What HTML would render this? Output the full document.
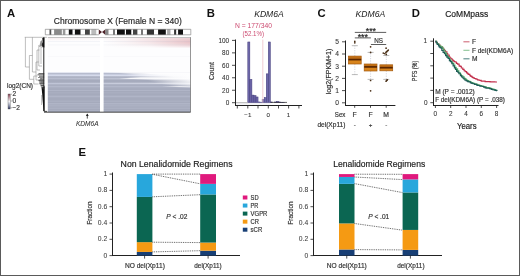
<!DOCTYPE html>
<html><head><meta charset="utf-8"><style>
html,body{margin:0;padding:0;background:#fff;}
body{width:520px;height:276px;overflow:hidden;font-family:"Liberation Sans", sans-serif;}
svg{display:block;will-change:transform;}
</style></head><body>
<svg width="520" height="276" viewBox="0 0 520 276" font-family='"Liberation Sans", sans-serif'><defs><linearGradient id="pk0" x1="0" y1="0" x2="1" y2="0"><stop offset="0" stop-color="#e0aab0" stop-opacity="0.15"/><stop offset="0.4" stop-color="#e0aab0" stop-opacity="0.075"/><stop offset="0.55" stop-color="#e0aab0" stop-opacity="0.12"/><stop offset="0.72" stop-color="#e0aab0" stop-opacity="0.3"/><stop offset="1" stop-color="#e0aab0" stop-opacity="0.55"/></linearGradient><linearGradient id="pk1" x1="0" y1="0" x2="1" y2="0"><stop offset="0" stop-color="#e0aab0" stop-opacity="0.08"/><stop offset="0.4" stop-color="#e0aab0" stop-opacity="0.04"/><stop offset="0.55" stop-color="#e0aab0" stop-opacity="0.12"/><stop offset="0.72" stop-color="#e0aab0" stop-opacity="0.3"/><stop offset="1" stop-color="#e0aab0" stop-opacity="0.6"/></linearGradient><linearGradient id="pk2" x1="0" y1="0" x2="1" y2="0"><stop offset="0" stop-color="#e0aab0" stop-opacity="0.03"/><stop offset="0.4" stop-color="#e0aab0" stop-opacity="0.015"/><stop offset="0.55" stop-color="#e0aab0" stop-opacity="0.12"/><stop offset="0.72" stop-color="#e0aab0" stop-opacity="0.3"/><stop offset="1" stop-color="#e0aab0" stop-opacity="0.65"/></linearGradient><linearGradient id="pk3" x1="0" y1="0" x2="1" y2="0"><stop offset="0" stop-color="#e0aab0" stop-opacity="0.0"/><stop offset="0.4" stop-color="#e0aab0" stop-opacity="0.0"/><stop offset="0.55" stop-color="#e0aab0" stop-opacity="0.12"/><stop offset="0.72" stop-color="#e0aab0" stop-opacity="0.3"/><stop offset="1" stop-color="#e0aab0" stop-opacity="0.7"/></linearGradient><linearGradient id="pk4" x1="0" y1="0" x2="1" y2="0"><stop offset="0" stop-color="#e0aab0" stop-opacity="0.0"/><stop offset="0.4" stop-color="#e0aab0" stop-opacity="0.0"/><stop offset="0.55" stop-color="#e0aab0" stop-opacity="0.11200000000000002"/><stop offset="0.72" stop-color="#e0aab0" stop-opacity="0.28"/><stop offset="1" stop-color="#e0aab0" stop-opacity="0.68"/></linearGradient><linearGradient id="pk5" x1="0" y1="0" x2="1" y2="0"><stop offset="0" stop-color="#e0aab0" stop-opacity="0.0"/><stop offset="0.4" stop-color="#e0aab0" stop-opacity="0.0"/><stop offset="0.55" stop-color="#e0aab0" stop-opacity="0.1"/><stop offset="0.72" stop-color="#e0aab0" stop-opacity="0.25"/><stop offset="1" stop-color="#e0aab0" stop-opacity="0.62"/></linearGradient><linearGradient id="pk6" x1="0" y1="0" x2="1" y2="0"><stop offset="0" stop-color="#e0aab0" stop-opacity="0.0"/><stop offset="0.4" stop-color="#e0aab0" stop-opacity="0.0"/><stop offset="0.55" stop-color="#e0aab0" stop-opacity="0.08000000000000002"/><stop offset="0.72" stop-color="#e0aab0" stop-opacity="0.2"/><stop offset="1" stop-color="#e0aab0" stop-opacity="0.55"/></linearGradient><linearGradient id="pk7" x1="0" y1="0" x2="1" y2="0"><stop offset="0" stop-color="#e0aab0" stop-opacity="0.0"/><stop offset="0.4" stop-color="#e0aab0" stop-opacity="0.0"/><stop offset="0.55" stop-color="#e0aab0" stop-opacity="0.05600000000000001"/><stop offset="0.72" stop-color="#e0aab0" stop-opacity="0.14"/><stop offset="1" stop-color="#e0aab0" stop-opacity="0.45"/></linearGradient><linearGradient id="pk8" x1="0" y1="0" x2="1" y2="0"><stop offset="0" stop-color="#e0aab0" stop-opacity="0.0"/><stop offset="0.4" stop-color="#e0aab0" stop-opacity="0.0"/><stop offset="0.55" stop-color="#e0aab0" stop-opacity="0.032"/><stop offset="0.72" stop-color="#e0aab0" stop-opacity="0.08"/><stop offset="1" stop-color="#e0aab0" stop-opacity="0.32"/></linearGradient><linearGradient id="pk9" x1="0" y1="0" x2="1" y2="0"><stop offset="0" stop-color="#e0aab0" stop-opacity="0.0"/><stop offset="0.4" stop-color="#e0aab0" stop-opacity="0.0"/><stop offset="0.55" stop-color="#e0aab0" stop-opacity="0.012"/><stop offset="0.72" stop-color="#e0aab0" stop-opacity="0.03"/><stop offset="1" stop-color="#e0aab0" stop-opacity="0.15"/></linearGradient><linearGradient id="bl72" x1="0" y1="0" x2="1" y2="0"><stop offset="0" stop-color="rgb(209,214,232)" stop-opacity="0.5"/><stop offset="0.4" stop-color="rgb(209,214,232)" stop-opacity="0.5"/><stop offset="0.55" stop-color="rgb(209,214,232)" stop-opacity="0.1"/><stop offset="0.7" stop-color="rgb(209,214,232)" stop-opacity="0"/><stop offset="1" stop-color="rgb(209,214,232)" stop-opacity="0"/></linearGradient><linearGradient id="bl73" x1="0" y1="0" x2="1" y2="0"><stop offset="0" stop-color="rgb(183,188,206)" stop-opacity="1"/><stop offset="0.5" stop-color="rgb(183,188,206)" stop-opacity="1"/><stop offset="0.6" stop-color="rgb(183,188,206)" stop-opacity="0.4"/><stop offset="0.72" stop-color="rgb(183,188,206)" stop-opacity="0"/><stop offset="1" stop-color="rgb(183,188,206)" stop-opacity="0"/></linearGradient><linearGradient id="bl74" x1="0" y1="0" x2="1" y2="0"><stop offset="0" stop-color="rgb(199,204,222)" stop-opacity="1"/><stop offset="0.55" stop-color="rgb(199,204,222)" stop-opacity="1"/><stop offset="0.65" stop-color="rgb(199,204,222)" stop-opacity="0.4"/><stop offset="0.78" stop-color="rgb(199,204,222)" stop-opacity="0.05"/><stop offset="1" stop-color="rgb(199,204,222)" stop-opacity="0"/></linearGradient><linearGradient id="bl75" x1="0" y1="0" x2="1" y2="0"><stop offset="0" stop-color="rgb(211,216,234)" stop-opacity="1"/><stop offset="0.55" stop-color="rgb(211,216,234)" stop-opacity="0.9"/><stop offset="0.7" stop-color="rgb(211,216,234)" stop-opacity="0.3"/><stop offset="0.85" stop-color="rgb(211,216,234)" stop-opacity="0.05"/><stop offset="1" stop-color="rgb(211,216,234)" stop-opacity="0"/></linearGradient><linearGradient id="bl76" x1="0" y1="0" x2="1" y2="0"><stop offset="0" stop-color="rgb(177,182,200)" stop-opacity="1"/><stop offset="0.58" stop-color="rgb(177,182,200)" stop-opacity="0.9"/><stop offset="0.72" stop-color="rgb(177,182,200)" stop-opacity="0.4"/><stop offset="0.88" stop-color="rgb(177,182,200)" stop-opacity="0.05"/><stop offset="1" stop-color="rgb(177,182,200)" stop-opacity="0"/></linearGradient><linearGradient id="bl77" x1="0" y1="0" x2="1" y2="0"><stop offset="0" stop-color="rgb(173,178,196)" stop-opacity="1"/><stop offset="0.55" stop-color="rgb(173,178,196)" stop-opacity="1"/><stop offset="0.65" stop-color="rgb(173,178,196)" stop-opacity="0.3"/><stop offset="0.9" stop-color="rgb(173,178,196)" stop-opacity="0.05"/><stop offset="1" stop-color="rgb(173,178,196)" stop-opacity="0"/></linearGradient><linearGradient id="bl78" x1="0" y1="0" x2="1" y2="0"><stop offset="0" stop-color="rgb(183,188,206)" stop-opacity="1"/><stop offset="0.5" stop-color="rgb(183,188,206)" stop-opacity="0.9"/><stop offset="0.58" stop-color="rgb(183,188,206)" stop-opacity="0.1"/><stop offset="1" stop-color="rgb(183,188,206)" stop-opacity="0"/></linearGradient><linearGradient id="bl79" x1="0" y1="0" x2="1" y2="0"><stop offset="0" stop-color="rgb(171,176,194)" stop-opacity="1"/><stop offset="0.6" stop-color="rgb(171,176,194)" stop-opacity="0.9"/><stop offset="0.75" stop-color="rgb(171,176,194)" stop-opacity="0.4"/><stop offset="1" stop-color="rgb(171,176,194)" stop-opacity="0.05"/></linearGradient><linearGradient id="bl80" x1="0" y1="0" x2="1" y2="0"><stop offset="0" stop-color="rgb(166,171,189)" stop-opacity="1"/><stop offset="0.7" stop-color="rgb(166,171,189)" stop-opacity="1"/><stop offset="0.85" stop-color="rgb(166,171,189)" stop-opacity="0.5"/><stop offset="1" stop-color="rgb(166,171,189)" stop-opacity="0.1"/></linearGradient><linearGradient id="bl81" x1="0" y1="0" x2="1" y2="0"><stop offset="0" stop-color="rgb(166,171,189)" stop-opacity="1"/><stop offset="0.72" stop-color="rgb(166,171,189)" stop-opacity="1"/><stop offset="0.88" stop-color="rgb(166,171,189)" stop-opacity="0.5"/><stop offset="1" stop-color="rgb(166,171,189)" stop-opacity="0.15"/></linearGradient><linearGradient id="bl82" x1="0" y1="0" x2="1" y2="0"><stop offset="0" stop-color="rgb(171,176,194)" stop-opacity="1"/><stop offset="0.75" stop-color="rgb(171,176,194)" stop-opacity="0.9"/><stop offset="0.9" stop-color="rgb(171,176,194)" stop-opacity="0.4"/><stop offset="1" stop-color="rgb(171,176,194)" stop-opacity="0.2"/></linearGradient><linearGradient id="bl83" x1="0" y1="0" x2="1" y2="0"><stop offset="0" stop-color="rgb(191,196,214)" stop-opacity="1"/><stop offset="0.7" stop-color="rgb(191,196,214)" stop-opacity="0.8"/><stop offset="1" stop-color="rgb(191,196,214)" stop-opacity="0.15"/></linearGradient><linearGradient id="bl84" x1="0" y1="0" x2="1" y2="0"><stop offset="0" stop-color="rgb(175,180,198)" stop-opacity="1"/><stop offset="0.8" stop-color="rgb(175,180,198)" stop-opacity="1"/><stop offset="0.92" stop-color="rgb(175,180,198)" stop-opacity="0.5"/><stop offset="1" stop-color="rgb(175,180,198)" stop-opacity="0.3"/></linearGradient><linearGradient id="bl85" x1="0" y1="0" x2="1" y2="0"><stop offset="0" stop-color="rgb(169,174,192)" stop-opacity="1"/><stop offset="0.85" stop-color="rgb(169,174,192)" stop-opacity="1"/><stop offset="1" stop-color="rgb(169,174,192)" stop-opacity="0.5"/></linearGradient><linearGradient id="bl86" x1="0" y1="0" x2="1" y2="0"><stop offset="0" stop-color="rgb(179,184,202)" stop-opacity="1"/><stop offset="0.8" stop-color="rgb(179,184,202)" stop-opacity="1"/><stop offset="0.92" stop-color="rgb(179,184,202)" stop-opacity="0.3"/><stop offset="1" stop-color="rgb(179,184,202)" stop-opacity="0.4"/></linearGradient><linearGradient id="bl87" x1="0" y1="0" x2="1" y2="0"><stop offset="0" stop-color="rgb(171,176,194)" stop-opacity="1"/><stop offset="0.9" stop-color="rgb(171,176,194)" stop-opacity="1"/><stop offset="1" stop-color="rgb(171,176,194)" stop-opacity="0.7"/></linearGradient><linearGradient id="bl88" x1="0" y1="0" x2="1" y2="0"><stop offset="0" stop-color="rgb(167,172,190)" stop-opacity="1"/><stop offset="1" stop-color="rgb(167,172,190)" stop-opacity="1"/></linearGradient><linearGradient id="bl89" x1="0" y1="0" x2="1" y2="0"><stop offset="0" stop-color="rgb(166,171,189)" stop-opacity="1"/><stop offset="1" stop-color="rgb(166,171,189)" stop-opacity="1"/></linearGradient><linearGradient id="bl90" x1="0" y1="0" x2="1" y2="0"><stop offset="0" stop-color="rgb(176,181,199)" stop-opacity="1"/><stop offset="1" stop-color="rgb(176,181,199)" stop-opacity="1"/></linearGradient><linearGradient id="bl91" x1="0" y1="0" x2="1" y2="0"><stop offset="0" stop-color="rgb(165,170,188)" stop-opacity="1"/><stop offset="1" stop-color="rgb(165,170,188)" stop-opacity="1"/></linearGradient><linearGradient id="bl92" x1="0" y1="0" x2="1" y2="0"><stop offset="0" stop-color="rgb(169,174,192)" stop-opacity="1"/><stop offset="1" stop-color="rgb(169,174,192)" stop-opacity="1"/></linearGradient><linearGradient id="bl93" x1="0" y1="0" x2="1" y2="0"><stop offset="0" stop-color="rgb(167,172,190)" stop-opacity="1"/><stop offset="1" stop-color="rgb(167,172,190)" stop-opacity="1"/></linearGradient><linearGradient id="bl94" x1="0" y1="0" x2="1" y2="0"><stop offset="0" stop-color="rgb(165,170,188)" stop-opacity="1"/><stop offset="1" stop-color="rgb(165,170,188)" stop-opacity="1"/></linearGradient><linearGradient id="bl95" x1="0" y1="0" x2="1" y2="0"><stop offset="0" stop-color="rgb(169,174,192)" stop-opacity="1"/><stop offset="1" stop-color="rgb(169,174,192)" stop-opacity="1"/></linearGradient><linearGradient id="bl96" x1="0" y1="0" x2="1" y2="0"><stop offset="0" stop-color="rgb(176,181,199)" stop-opacity="1"/><stop offset="1" stop-color="rgb(176,181,199)" stop-opacity="1"/></linearGradient><linearGradient id="bl97" x1="0" y1="0" x2="1" y2="0"><stop offset="0" stop-color="rgb(168,173,191)" stop-opacity="1"/><stop offset="1" stop-color="rgb(168,173,191)" stop-opacity="1"/></linearGradient><linearGradient id="bl98" x1="0" y1="0" x2="1" y2="0"><stop offset="0" stop-color="rgb(165,170,188)" stop-opacity="1"/><stop offset="1" stop-color="rgb(165,170,188)" stop-opacity="1"/></linearGradient><linearGradient id="bl99" x1="0" y1="0" x2="1" y2="0"><stop offset="0" stop-color="rgb(165,170,188)" stop-opacity="1"/><stop offset="1" stop-color="rgb(165,170,188)" stop-opacity="1"/></linearGradient><linearGradient id="bl100" x1="0" y1="0" x2="1" y2="0"><stop offset="0" stop-color="rgb(168,173,191)" stop-opacity="1"/><stop offset="1" stop-color="rgb(168,173,191)" stop-opacity="1"/></linearGradient><linearGradient id="bl101" x1="0" y1="0" x2="1" y2="0"><stop offset="0" stop-color="rgb(171,176,194)" stop-opacity="1"/><stop offset="1" stop-color="rgb(171,176,194)" stop-opacity="1"/></linearGradient><linearGradient id="bl102" x1="0" y1="0" x2="1" y2="0"><stop offset="0" stop-color="rgb(165,170,188)" stop-opacity="1"/><stop offset="1" stop-color="rgb(165,170,188)" stop-opacity="1"/></linearGradient><linearGradient id="bl103" x1="0" y1="0" x2="1" y2="0"><stop offset="0" stop-color="rgb(176,181,199)" stop-opacity="1"/><stop offset="1" stop-color="rgb(176,181,199)" stop-opacity="1"/></linearGradient><linearGradient id="bl104" x1="0" y1="0" x2="1" y2="0"><stop offset="0" stop-color="rgb(170,175,193)" stop-opacity="1"/><stop offset="1" stop-color="rgb(170,175,193)" stop-opacity="1"/></linearGradient><linearGradient id="bl105" x1="0" y1="0" x2="1" y2="0"><stop offset="0" stop-color="rgb(172,177,195)" stop-opacity="1"/><stop offset="1" stop-color="rgb(172,177,195)" stop-opacity="1"/></linearGradient><linearGradient id="bl106" x1="0" y1="0" x2="1" y2="0"><stop offset="0" stop-color="rgb(169,174,192)" stop-opacity="1"/><stop offset="1" stop-color="rgb(169,174,192)" stop-opacity="1"/></linearGradient><linearGradient id="bl107" x1="0" y1="0" x2="1" y2="0"><stop offset="0" stop-color="rgb(168,173,191)" stop-opacity="1"/><stop offset="1" stop-color="rgb(168,173,191)" stop-opacity="1"/></linearGradient><linearGradient id="bl108" x1="0" y1="0" x2="1" y2="0"><stop offset="0" stop-color="rgb(172,177,195)" stop-opacity="1"/><stop offset="1" stop-color="rgb(172,177,195)" stop-opacity="1"/></linearGradient><linearGradient id="bl109" x1="0" y1="0" x2="1" y2="0"><stop offset="0" stop-color="rgb(165,170,188)" stop-opacity="1"/><stop offset="1" stop-color="rgb(165,170,188)" stop-opacity="1"/></linearGradient><linearGradient id="bl110" x1="0" y1="0" x2="1" y2="0"><stop offset="0" stop-color="rgb(171,176,194)" stop-opacity="1"/><stop offset="1" stop-color="rgb(171,176,194)" stop-opacity="1"/></linearGradient><linearGradient id="bl111" x1="0" y1="0" x2="1" y2="0"><stop offset="0" stop-color="rgb(167,172,190)" stop-opacity="1"/><stop offset="1" stop-color="rgb(167,172,190)" stop-opacity="1"/></linearGradient><linearGradient id="lg" x1="0" y1="0" x2="0" y2="1"><stop offset="0" stop-color="#7a3a4a"/><stop offset="0.2" stop-color="#b88a96"/><stop offset="0.5" stop-color="#f4f4f6"/><stop offset="0.8" stop-color="#8a90aa"/><stop offset="1" stop-color="#2a3058"/></linearGradient></defs><rect x="0.5" y="0.5" width="519" height="275" fill="none" stroke="#5a5a5a" stroke-width="1"/>
<text x="6.9" y="16.9" font-size="11.3" fill="#111" font-weight="bold">A</text>
<text x="206.8" y="16.9" font-size="11.3" fill="#111" font-weight="bold">B</text>
<text x="317.4" y="16.9" font-size="11.3" fill="#111" font-weight="bold">C</text>
<text x="411.8" y="16.9" font-size="11.3" fill="#111" font-weight="bold">D</text>
<text x="78.4" y="156.0" font-size="11.3" fill="#111" font-weight="bold">E</text>
<text x="53.8" y="23.5" font-size="8.5" fill="#2a2a2a" stroke="#2a2a2a" stroke-width="0.18" textLength="128" lengthAdjust="spacingAndGlyphs">Chromosome X (Female N = 340)</text>
<rect x="45.3" y="29.3" width="4.2" height="5.5" fill="#fff"/>
<rect x="49.5" y="29.3" width="2.0" height="5.5" fill="#555"/>
<rect x="51.5" y="29.3" width="2.6" height="5.5" fill="#fff"/>
<rect x="54.1" y="29.3" width="7.8" height="5.5" fill="#8a8a8a"/>
<rect x="61.9" y="29.3" width="1.1" height="5.5" fill="#eee"/>
<rect x="63" y="29.3" width="2.6" height="5.5" fill="#999"/>
<rect x="65.6" y="29.3" width="3.2" height="5.5" fill="#fff"/>
<rect x="68.8" y="29.3" width="3.9" height="5.5" fill="#111"/>
<rect x="72.7" y="29.3" width="2.2" height="5.5" fill="#fff"/>
<rect x="74.9" y="29.3" width="5.8" height="5.5" fill="#111"/>
<rect x="80.7" y="29.3" width="4.3" height="5.5" fill="#fff"/>
<rect x="85" y="29.3" width="4.9" height="5.5" fill="#444"/>
<rect x="89.9" y="29.3" width="1.4" height="5.5" fill="#fff"/>
<rect x="91.3" y="29.3" width="5.2" height="5.5" fill="#bbb"/>
<rect x="96.5" y="29.3" width="2.1" height="5.5" fill="#fff"/>
<rect x="98.6" y="29.3" width="6.6" height="5.5" fill="#fff"/>
<rect x="105.2" y="29.3" width="3.5" height="5.5" fill="#888"/>
<rect x="108.7" y="29.3" width="4.3" height="5.5" fill="#fff"/>
<rect x="113" y="29.3" width="2" height="5.5" fill="#777"/>
<rect x="115" y="29.3" width="2" height="5.5" fill="#fff"/>
<rect x="117" y="29.3" width="7.9" height="5.5" fill="#111"/>
<rect x="124.9" y="29.3" width="1.1" height="5.5" fill="#fff"/>
<rect x="126" y="29.3" width="5.5" height="5.5" fill="#111"/>
<rect x="131.5" y="29.3" width="1.5" height="5.5" fill="#fff"/>
<rect x="133" y="29.3" width="4.6" height="5.5" fill="#444"/>
<rect x="137.6" y="29.3" width="3.4" height="5.5" fill="#fff"/>
<rect x="141" y="29.3" width="2" height="5.5" fill="#777"/>
<rect x="143" y="29.3" width="3.9" height="5.5" fill="#fff"/>
<rect x="146.9" y="29.3" width="7.2" height="5.5" fill="#333"/>
<rect x="154.1" y="29.3" width="4.0" height="5.5" fill="#fff"/>
<rect x="158.1" y="29.3" width="7.8" height="5.5" fill="#111"/>
<rect x="165.9" y="29.3" width="1.2" height="5.5" fill="#fff"/>
<rect x="167.1" y="29.3" width="3.6" height="5.5" fill="#aaa"/>
<rect x="170.7" y="29.3" width="3.4" height="5.5" fill="#fff"/>
<rect x="174.1" y="29.3" width="2.3" height="5.5" fill="#333"/>
<rect x="176.4" y="29.3" width="1.7" height="5.5" fill="#fff"/>
<rect x="178.1" y="29.3" width="4.9" height="5.5" fill="#111"/>
<rect x="183" y="29.3" width="7.8" height="5.5" fill="#fff"/>
<path d="M98.8 29.4 L102 32.05 L105.2 29.4 L105.2 34.7 L102 32.05 L98.8 34.7 Z" fill="#4e2228"/>
<path d="M98.8 29.3 H45.3 V34.8 H98.8 M105.2 29.3 H190.8 V34.8 H105.2" fill="none" stroke="#777" stroke-width="0.6"/>
<rect x="47.8" y="37.8" width="142.7" height="74.2" fill="#fdfdfe"/>
<rect x="47.8" y="38" width="142.7" height="1" fill="url(#pk0)"/>
<rect x="47.8" y="39" width="142.7" height="1" fill="url(#pk1)"/>
<rect x="47.8" y="40" width="142.7" height="1" fill="url(#pk2)"/>
<rect x="47.8" y="41" width="142.7" height="1" fill="url(#pk3)"/>
<rect x="47.8" y="42" width="142.7" height="1" fill="url(#pk4)"/>
<rect x="47.8" y="43" width="142.7" height="1" fill="url(#pk5)"/>
<rect x="47.8" y="44" width="142.7" height="1" fill="url(#pk6)"/>
<rect x="47.8" y="45" width="142.7" height="1" fill="url(#pk7)"/>
<rect x="47.8" y="46" width="142.7" height="1" fill="url(#pk8)"/>
<rect x="47.8" y="47" width="142.7" height="1" fill="url(#pk9)"/>
<rect x="47.8" y="41" width="142.7" height="0.8" fill="#b0b4c8" opacity="0.15"/>
<rect x="47.8" y="44.5" width="142.7" height="0.8" fill="#b0b4c8" opacity="0.12"/>
<rect x="47.8" y="56" width="142.7" height="0.8" fill="#b0b4c8" opacity="0.06"/>
<rect x="47.8" y="72" width="142.7" height="0.8" fill="#b0b4c8" opacity="0.1"/>
<rect x="47.8" y="72" width="142.7" height="1" fill="url(#bl72)"/>
<rect x="47.8" y="73" width="142.7" height="1" fill="url(#bl73)"/>
<rect x="47.8" y="74" width="142.7" height="1" fill="url(#bl74)"/>
<rect x="47.8" y="75" width="142.7" height="1" fill="url(#bl75)"/>
<rect x="47.8" y="76" width="142.7" height="1" fill="url(#bl76)"/>
<rect x="47.8" y="77" width="142.7" height="1" fill="url(#bl77)"/>
<rect x="47.8" y="78" width="142.7" height="1" fill="url(#bl78)"/>
<rect x="47.8" y="79" width="142.7" height="1" fill="url(#bl79)"/>
<rect x="47.8" y="80" width="142.7" height="1" fill="url(#bl80)"/>
<rect x="47.8" y="81" width="142.7" height="1" fill="url(#bl81)"/>
<rect x="47.8" y="82" width="142.7" height="1" fill="url(#bl82)"/>
<rect x="47.8" y="83" width="142.7" height="1" fill="url(#bl83)"/>
<rect x="47.8" y="84" width="142.7" height="1" fill="url(#bl84)"/>
<rect x="47.8" y="85" width="142.7" height="1" fill="url(#bl85)"/>
<rect x="47.8" y="86" width="142.7" height="1" fill="url(#bl86)"/>
<rect x="47.8" y="87" width="142.7" height="1" fill="url(#bl87)"/>
<rect x="47.8" y="88" width="142.7" height="1" fill="url(#bl88)"/>
<rect x="47.8" y="89" width="142.7" height="1" fill="url(#bl89)"/>
<rect x="47.8" y="90" width="142.7" height="1" fill="url(#bl90)"/>
<rect x="47.8" y="91" width="142.7" height="1" fill="url(#bl91)"/>
<rect x="47.8" y="92" width="142.7" height="1" fill="url(#bl92)"/>
<rect x="47.8" y="93" width="142.7" height="1" fill="url(#bl93)"/>
<rect x="47.8" y="94" width="142.7" height="1" fill="url(#bl94)"/>
<rect x="47.8" y="95" width="142.7" height="1" fill="url(#bl95)"/>
<rect x="47.8" y="96" width="142.7" height="1" fill="url(#bl96)"/>
<rect x="47.8" y="97" width="142.7" height="1" fill="url(#bl97)"/>
<rect x="47.8" y="98" width="142.7" height="1" fill="url(#bl98)"/>
<rect x="47.8" y="99" width="142.7" height="1" fill="url(#bl99)"/>
<rect x="47.8" y="100" width="142.7" height="1" fill="url(#bl100)"/>
<rect x="47.8" y="101" width="142.7" height="1" fill="url(#bl101)"/>
<rect x="47.8" y="102" width="142.7" height="1" fill="url(#bl102)"/>
<rect x="47.8" y="103" width="142.7" height="1" fill="url(#bl103)"/>
<rect x="47.8" y="104" width="142.7" height="1" fill="url(#bl104)"/>
<rect x="47.8" y="105" width="142.7" height="1" fill="url(#bl105)"/>
<rect x="47.8" y="106" width="142.7" height="1" fill="url(#bl106)"/>
<rect x="47.8" y="107" width="142.7" height="1" fill="url(#bl107)"/>
<rect x="47.8" y="108" width="142.7" height="1" fill="url(#bl108)"/>
<rect x="47.8" y="109" width="142.7" height="1" fill="url(#bl109)"/>
<rect x="47.8" y="110" width="142.7" height="1" fill="url(#bl110)"/>
<rect x="47.8" y="111" width="142.7" height="1" fill="url(#bl111)"/>
<rect x="100" y="37.8" width="3.6" height="74.2" fill="#fff"/>
<line x1="47.8" y1="37.5" x2="190.5" y2="37.5" stroke="#9a9a9a" stroke-width="0.6"/>
<line x1="190.5" y1="37.2" x2="190.5" y2="112.3" stroke="#6a6a6a" stroke-width="0.7"/>
<line x1="44" y1="112.2" x2="190.5" y2="112.2" stroke="#333" stroke-width="0.9"/>
<line x1="24.7" y1="37.3" x2="47" y2="37.3" stroke="#8a8a8a" stroke-width="0.55"/>
<line x1="25.4" y1="37.3" x2="25.4" y2="67" stroke="#8a8a8a" stroke-width="0.55"/>
<line x1="25.4" y1="67" x2="29.4" y2="67" stroke="#8a8a8a" stroke-width="0.55"/>
<line x1="29.4" y1="55.5" x2="29.4" y2="79.3" stroke="#8a8a8a" stroke-width="0.55"/>
<line x1="29.4" y1="55.5" x2="32.4" y2="55.5" stroke="#8a8a8a" stroke-width="0.55"/>
<line x1="29.4" y1="79.3" x2="33.8" y2="79.3" stroke="#8a8a8a" stroke-width="0.55"/>
<line x1="32.4" y1="37.3" x2="32.4" y2="72" stroke="#8a8a8a" stroke-width="0.55"/>
<line x1="32.4" y1="72" x2="36" y2="72" stroke="#8a8a8a" stroke-width="0.55"/>
<line x1="33.8" y1="76" x2="33.8" y2="84" stroke="#8a8a8a" stroke-width="0.55"/>
<line x1="33.8" y1="76" x2="37.5" y2="76" stroke="#8a8a8a" stroke-width="0.55"/>
<line x1="33.8" y1="84" x2="38.5" y2="84" stroke="#8a8a8a" stroke-width="0.55"/>
<line x1="36" y1="62" x2="36" y2="80" stroke="#8a8a8a" stroke-width="0.55"/>
<line x1="36" y1="62" x2="38.8" y2="62" stroke="#8a8a8a" stroke-width="0.55"/>
<line x1="36" y1="80" x2="39" y2="80" stroke="#8a8a8a" stroke-width="0.55"/>
<line x1="37" y1="50" x2="37" y2="70" stroke="#8a8a8a" stroke-width="0.55"/>
<line x1="37" y1="50" x2="39.5" y2="50" stroke="#8a8a8a" stroke-width="0.55"/>
<line x1="37" y1="70" x2="40" y2="70" stroke="#8a8a8a" stroke-width="0.55"/>
<line x1="38.8" y1="45" x2="38.8" y2="66" stroke="#8a8a8a" stroke-width="0.55"/>
<line x1="38.8" y1="66" x2="42" y2="66" stroke="#8a8a8a" stroke-width="0.55"/>
<line x1="41" y1="47" x2="41" y2="64" stroke="#8a8a8a" stroke-width="0.55"/>
<line x1="41" y1="47" x2="43" y2="47" stroke="#8a8a8a" stroke-width="0.55"/>
<line x1="41.6" y1="95" x2="41.6" y2="105" stroke="#8a8a8a" stroke-width="0.55"/>
<line x1="43.8" y1="37.3" x2="43.8" y2="111" stroke="#222" stroke-width="1.0"/>
<path d="M42.3 38 L44.4 37.6 L44.4 47.5 L42.6 47 L41.6 45 L42.6 42 Z" fill="#111"/>
<path d="M39.2 47 L40.5 41.5 L42 40 L42.3 46 Z" fill="#777" opacity="0.8"/>
<path d="M41.6 88 L44.6 86 L44.6 111 L43.6 111 L42.6 100 L42.2 94 Z" fill="#111"/>
<path d="M38.5 80 L41 78 L44 79 L44 90 L41.5 88 L39.5 84 Z" fill="#444" opacity="0.5"/>
<line x1="38.5" y1="73.5" x2="44.3" y2="73.5" stroke="#222" stroke-width="0.8" opacity="0.8"/>
<line x1="37.5" y1="74.8" x2="44.3" y2="74.8" stroke="#222" stroke-width="0.8" opacity="0.9"/>
<line x1="39" y1="76.2" x2="44.3" y2="76.2" stroke="#222" stroke-width="0.8" opacity="0.9"/>
<line x1="38" y1="77.6" x2="44.3" y2="77.6" stroke="#222" stroke-width="0.8" opacity="0.7"/>
<line x1="40" y1="79" x2="44.3" y2="79" stroke="#222" stroke-width="0.8" opacity="0.8"/>
<line x1="38.5" y1="80.5" x2="44.3" y2="80.5" stroke="#222" stroke-width="0.8" opacity="0.6"/>
<line x1="40.5" y1="82" x2="44.3" y2="82" stroke="#222" stroke-width="0.8" opacity="0.8"/>
<line x1="39.5" y1="83.5" x2="44.3" y2="83.5" stroke="#222" stroke-width="0.8" opacity="0.6"/>
<line x1="41" y1="85.5" x2="44.3" y2="85.5" stroke="#222" stroke-width="0.8" opacity="0.7"/>
<line x1="41.5" y1="87.5" x2="44.3" y2="87.5" stroke="#222" stroke-width="0.8" opacity="0.6"/>
<line x1="43.8" y1="111.4" x2="47" y2="111.4" stroke="#222" stroke-width="0.8"/>
<text x="7" y="88.2" font-size="6.5" fill="#333" stroke="#333" stroke-width="0.18" textLength="26" lengthAdjust="spacingAndGlyphs">log2(CN)</text>
<rect x="8" y="94" width="2.2" height="15" fill="url(#lg)" stroke="#666" stroke-width="0.4"/>
<line x1="10.6" y1="94.2" x2="12" y2="94.2" stroke="#555" stroke-width="0.5"/>
<text x="12.5" y="96.4" font-size="6.5" fill="#333" stroke="#333" stroke-width="0.18">2</text>
<line x1="10.6" y1="101.0" x2="12" y2="101.0" stroke="#555" stroke-width="0.5"/>
<text x="12.5" y="103.2" font-size="6.5" fill="#333" stroke="#333" stroke-width="0.18">0</text>
<line x1="10.6" y1="107.8" x2="12" y2="107.8" stroke="#555" stroke-width="0.5"/>
<text x="12.5" y="110" font-size="6.5" fill="#333" stroke="#333" stroke-width="0.18">−2</text>
<line x1="87.3" y1="114.2" x2="87.3" y2="118.6" stroke="#222" stroke-width="0.8"/>
<path d="M85.9 116 L87.3 113.4 L88.7 116 Z" fill="#222"/>
<text x="76" y="125.8" font-size="6.6" fill="#333" stroke="#333" stroke-width="0.05" font-style="italic" textLength="22.6" lengthAdjust="spacingAndGlyphs">KDM6A</text>
<text x="254.2" y="16.6" font-size="8.6" fill="#222" font-style="italic" textLength="29.6" lengthAdjust="spacingAndGlyphs">KDM6A</text>
<text x="235" y="28.0" font-size="6.8" fill="#cc4a70" textLength="37" lengthAdjust="spacingAndGlyphs">N = 177/340</text>
<text x="242.5" y="36.0" font-size="6.8" fill="#cc4a70" textLength="21.5" lengthAdjust="spacingAndGlyphs">(52.1%)</text>
<line x1="232" y1="102.7" x2="235.5" y2="102.7" stroke="#222" stroke-width="0.8"/>
<text x="229.2" y="105.2" font-size="6.4" fill="#333" stroke="#333" stroke-width="0.08" text-anchor="end">0</text>
<line x1="232" y1="90.24000000000001" x2="235.5" y2="90.24000000000001" stroke="#222" stroke-width="0.8"/>
<text x="229.2" y="92.74000000000001" font-size="6.4" fill="#333" stroke="#333" stroke-width="0.08" text-anchor="end">20</text>
<line x1="232" y1="77.78" x2="235.5" y2="77.78" stroke="#222" stroke-width="0.8"/>
<text x="229.2" y="80.28" font-size="6.4" fill="#333" stroke="#333" stroke-width="0.08" text-anchor="end">40</text>
<line x1="232" y1="65.32" x2="235.5" y2="65.32" stroke="#222" stroke-width="0.8"/>
<text x="229.2" y="67.82" font-size="6.4" fill="#333" stroke="#333" stroke-width="0.08" text-anchor="end">60</text>
<line x1="232" y1="52.86" x2="235.5" y2="52.86" stroke="#222" stroke-width="0.8"/>
<text x="229.2" y="55.36" font-size="6.4" fill="#333" stroke="#333" stroke-width="0.08" text-anchor="end">80</text>
<line x1="232" y1="40.400000000000006" x2="235.5" y2="40.400000000000006" stroke="#222" stroke-width="0.8"/>
<text x="229.2" y="42.900000000000006" font-size="6.4" fill="#333" stroke="#333" stroke-width="0.08" text-anchor="end">100</text>
<line x1="237.3" y1="105.5" x2="237.3" y2="108.5" stroke="#222" stroke-width="0.8"/>
<line x1="247.8" y1="105.5" x2="247.8" y2="108.5" stroke="#222" stroke-width="0.8"/>
<line x1="258" y1="105.5" x2="258" y2="108.5" stroke="#222" stroke-width="0.8"/>
<line x1="268.3" y1="105.5" x2="268.3" y2="108.5" stroke="#222" stroke-width="0.8"/>
<line x1="278.5" y1="105.5" x2="278.5" y2="108.5" stroke="#222" stroke-width="0.8"/>
<line x1="288.6" y1="105.5" x2="288.6" y2="108.5" stroke="#222" stroke-width="0.8"/>
<line x1="298.9" y1="105.5" x2="298.9" y2="108.5" stroke="#222" stroke-width="0.8"/>
<text x="247.8" y="117.2" font-size="6.2" fill="#333" stroke="#333" stroke-width="0.08" text-anchor="middle">−1</text>
<text x="268.3" y="117.2" font-size="6.2" fill="#333" stroke="#333" stroke-width="0.08" text-anchor="middle">0</text>
<text x="288.6" y="117.2" font-size="6.2" fill="#333" stroke="#333" stroke-width="0.08" text-anchor="middle">1</text>
<text x="213.6" y="71.0" font-size="6.8" fill="#333" stroke="#333" stroke-width="0.18" text-anchor="middle" textLength="18" lengthAdjust="spacingAndGlyphs" transform="rotate(-90 213.6 71.0)">Count</text>
<rect x="235.3" y="102.2" width="12.5" height="1.1" fill="#b4b4b4"/>
<rect x="235.3" y="103.3" width="35" height="1.2" fill="#ececf0"/>
<rect x="247.80" y="41.97" width="2.05" height="60.62" fill="#6e68aa" stroke="#403a78" stroke-width="0.5"/>
<rect x="249.85" y="79.47" width="2.05" height="23.12" fill="#6e68aa" stroke="#403a78" stroke-width="0.5"/>
<rect x="251.90" y="95.10" width="2.05" height="7.50" fill="#6e68aa" stroke="#403a78" stroke-width="0.5"/>
<rect x="253.95" y="95.72" width="2.05" height="6.88" fill="#6e68aa" stroke="#403a78" stroke-width="0.5"/>
<rect x="256.00" y="96.97" width="2.05" height="5.62" fill="#6e68aa" stroke="#403a78" stroke-width="0.5"/>
<rect x="258.05" y="101.97" width="2.05" height="0.62" fill="#6e68aa" stroke="#403a78" stroke-width="0.5"/>
<rect x="260.10" y="102.22" width="2.05" height="0.38" fill="#6e68aa" stroke="#403a78" stroke-width="0.5"/>
<rect x="262.15" y="99.47" width="2.05" height="3.12" fill="#6e68aa" stroke="#403a78" stroke-width="0.5"/>
<rect x="264.20" y="97.60" width="2.05" height="5.00" fill="#6e68aa" stroke="#403a78" stroke-width="0.5"/>
<rect x="266.25" y="73.85" width="2.05" height="28.75" fill="#6e68aa" stroke="#403a78" stroke-width="0.5"/>
<rect x="268.30" y="41.97" width="2.05" height="60.62" fill="#6e68aa" stroke="#403a78" stroke-width="0.5"/>
<rect x="270.35" y="101.97" width="2.05" height="0.62" fill="#6e68aa" stroke="#403a78" stroke-width="0.5"/>
<rect x="274.45" y="101.97" width="2.05" height="0.62" fill="#6e68aa" stroke="#403a78" stroke-width="0.5"/>
<rect x="276.50" y="101.35" width="2.05" height="1.25" fill="#6e68aa" stroke="#403a78" stroke-width="0.5"/>
<rect x="278.55" y="101.97" width="2.05" height="0.62" fill="#6e68aa" stroke="#403a78" stroke-width="0.5"/>
<rect x="280.60" y="102.29" width="2.05" height="0.31" fill="#6e68aa" stroke="#403a78" stroke-width="0.5"/>
<rect x="282.65" y="102.29" width="2.05" height="0.31" fill="#6e68aa" stroke="#403a78" stroke-width="0.5"/>
<line x1="270.5" y1="102.4" x2="287" y2="102.4" stroke="#222" stroke-width="0.7"/>
<line x1="262.8" y1="39.6" x2="262.8" y2="102.6" stroke="#eec0c8" stroke-width="0.8"/>
<line x1="235.5" y1="39.5" x2="235.5" y2="106" stroke="#222" stroke-width="1"/>
<line x1="235" y1="105.5" x2="302" y2="105.5" stroke="#222" stroke-width="1"/>
<text x="355.6" y="16.6" font-size="8.6" fill="#222" font-style="italic" textLength="29.6" lengthAdjust="spacingAndGlyphs">KDM6A</text>
<line x1="345.5" y1="40.5" x2="345.5" y2="106" stroke="#222" stroke-width="1"/>
<line x1="345" y1="105.5" x2="395.4" y2="105.5" stroke="#222" stroke-width="1"/>
<line x1="342" y1="102.8" x2="345.5" y2="102.8" stroke="#222" stroke-width="0.8"/>
<text x="339" y="105.1" font-size="6.7" fill="#333" stroke="#333" stroke-width="0.08" text-anchor="end">0</text>
<line x1="342" y1="90.6" x2="345.5" y2="90.6" stroke="#222" stroke-width="0.8"/>
<text x="339" y="92.89999999999999" font-size="6.7" fill="#333" stroke="#333" stroke-width="0.08" text-anchor="end">1</text>
<line x1="342" y1="78.4" x2="345.5" y2="78.4" stroke="#222" stroke-width="0.8"/>
<text x="339" y="80.7" font-size="6.7" fill="#333" stroke="#333" stroke-width="0.08" text-anchor="end">2</text>
<line x1="342" y1="66.2" x2="345.5" y2="66.2" stroke="#222" stroke-width="0.8"/>
<text x="339" y="68.5" font-size="6.7" fill="#333" stroke="#333" stroke-width="0.08" text-anchor="end">3</text>
<line x1="342" y1="54.0" x2="345.5" y2="54.0" stroke="#222" stroke-width="0.8"/>
<text x="339" y="56.3" font-size="6.7" fill="#333" stroke="#333" stroke-width="0.08" text-anchor="end">4</text>
<line x1="342" y1="41.8" x2="345.5" y2="41.8" stroke="#222" stroke-width="0.8"/>
<text x="339" y="44.099999999999994" font-size="6.7" fill="#333" stroke="#333" stroke-width="0.08" text-anchor="end">5</text>
<line x1="354.7" y1="105.5" x2="354.7" y2="107.8" stroke="#222" stroke-width="0.8"/>
<line x1="370.5" y1="105.5" x2="370.5" y2="107.8" stroke="#222" stroke-width="0.8"/>
<line x1="386.2" y1="105.5" x2="386.2" y2="107.8" stroke="#222" stroke-width="0.8"/>
<text x="331.5" y="71.4" font-size="6.6" fill="#333" stroke="#333" stroke-width="0.18" text-anchor="middle" textLength="45.6" lengthAdjust="spacingAndGlyphs" transform="rotate(-90 331.5 71.4)">log2(FPKM+1)</text>
<line x1="354.8" y1="32.4" x2="386.2" y2="32.4" stroke="#333" stroke-width="0.8"/>
<text x="370.9" y="33.8" font-size="8.8" fill="#222" stroke="#222" stroke-width="0.18" text-anchor="middle">***</text>
<line x1="354.8" y1="37.9" x2="370.9" y2="37.9" stroke="#333" stroke-width="0.8"/>
<text x="362.8" y="39.8" font-size="8.8" fill="#222" stroke="#222" stroke-width="0.18" text-anchor="middle">***</text>
<line x1="370.9" y1="44.5" x2="386.2" y2="44.5" stroke="#333" stroke-width="0.8"/>
<text x="378.6" y="42.8" font-size="6.3" fill="#333" stroke="#333" stroke-width="0.18" text-anchor="middle">NS</text>
<line x1="354.8" y1="56.1" x2="354.8" y2="45.7" stroke="#b8bcc8" stroke-width="0.6" stroke-dasharray="1.2 1.2"/>
<line x1="354.8" y1="64.0" x2="354.8" y2="74.6" stroke="#b8bcc8" stroke-width="0.6" stroke-dasharray="1.2 1.2"/>
<line x1="351.8" y1="45.7" x2="357.8" y2="45.7" stroke="#8a8a8a" stroke-width="0.6"/>
<line x1="351.8" y1="74.6" x2="357.8" y2="74.6" stroke="#8a8a8a" stroke-width="0.6"/>
<rect x="348.40" y="56.10" width="12.8" height="7.90" fill="#d8841c" stroke="#a45a10" stroke-width="0.7"/>
<rect x="348.80" y="56.50" width="12.0" height="2.90" fill="#b56412" opacity="0.75"/>
<line x1="348.40000000000003" y1="59.6" x2="361.20000000000005" y2="59.6" stroke="#5a2600" stroke-width="1.7"/>
<circle cx="354.80" cy="41.40" r="0.85" fill="#4a3018"/>
<circle cx="354.80" cy="42.80" r="0.85" fill="#4a3018"/>
<line x1="370.6" y1="64.0" x2="370.6" y2="52.4" stroke="#b8bcc8" stroke-width="0.6" stroke-dasharray="1.2 1.2"/>
<line x1="370.6" y1="71.0" x2="370.6" y2="79.4" stroke="#b8bcc8" stroke-width="0.6" stroke-dasharray="1.2 1.2"/>
<line x1="367.6" y1="52.4" x2="373.6" y2="52.4" stroke="#8a8a8a" stroke-width="0.6"/>
<line x1="367.6" y1="79.4" x2="373.6" y2="79.4" stroke="#8a8a8a" stroke-width="0.6"/>
<rect x="364.20" y="64.00" width="12.8" height="7.00" fill="#d8841c" stroke="#a45a10" stroke-width="0.7"/>
<rect x="364.60" y="64.40" width="12.0" height="2.30" fill="#b56412" opacity="0.75"/>
<line x1="364.20000000000005" y1="66.9" x2="377.00000000000006" y2="66.9" stroke="#5a2600" stroke-width="1.7"/>
<circle cx="370.60" cy="46.80" r="0.85" fill="#4a3018"/>
<circle cx="370.60" cy="52.40" r="0.85" fill="#4a3018"/>
<circle cx="370.60" cy="80.50" r="0.85" fill="#4a3018"/>
<circle cx="370.60" cy="90.80" r="0.85" fill="#4a3018"/>
<line x1="386.3" y1="64.8" x2="386.3" y2="55.5" stroke="#b8bcc8" stroke-width="0.6" stroke-dasharray="1.2 1.2"/>
<line x1="386.3" y1="70.8" x2="386.3" y2="79.4" stroke="#b8bcc8" stroke-width="0.6" stroke-dasharray="1.2 1.2"/>
<line x1="383.3" y1="55.5" x2="389.3" y2="55.5" stroke="#8a8a8a" stroke-width="0.6"/>
<line x1="383.3" y1="79.4" x2="389.3" y2="79.4" stroke="#8a8a8a" stroke-width="0.6"/>
<rect x="379.90" y="64.80" width="12.8" height="6.00" fill="#d8841c" stroke="#a45a10" stroke-width="0.7"/>
<rect x="380.30" y="65.20" width="12.0" height="2.30" fill="#b56412" opacity="0.75"/>
<line x1="379.90000000000003" y1="67.7" x2="392.70000000000005" y2="67.7" stroke="#5a2600" stroke-width="1.7"/>
<circle cx="386.10" cy="48.20" r="0.85" fill="#4a3018"/>
<circle cx="388.30" cy="50.10" r="0.85" fill="#4a3018"/>
<circle cx="387.50" cy="50.90" r="0.85" fill="#4a3018"/>
<circle cx="386.70" cy="51.70" r="0.85" fill="#4a3018"/>
<circle cx="385.90" cy="52.40" r="0.85" fill="#4a3018"/>
<circle cx="383.30" cy="53.10" r="0.85" fill="#4a3018"/>
<circle cx="386.30" cy="54.40" r="0.85" fill="#4a3018"/>
<circle cx="384.80" cy="53.60" r="0.85" fill="#4a3018"/>
<circle cx="386.80" cy="80.30" r="0.85" fill="#4a3018"/>
<circle cx="386.10" cy="81.20" r="0.85" fill="#4a3018"/>
<circle cx="387.30" cy="79.80" r="0.85" fill="#4a3018"/>
<text x="345.4" y="116.5" font-size="6.6" fill="#333" stroke="#333" stroke-width="0.18" text-anchor="end" textLength="10.6" lengthAdjust="spacingAndGlyphs">Sex</text>
<text x="354.7" y="116.5" font-size="6.8" fill="#333" stroke="#333" stroke-width="0.18" text-anchor="middle">F</text>
<text x="370.5" y="116.5" font-size="6.8" fill="#333" stroke="#333" stroke-width="0.18" text-anchor="middle">F</text>
<text x="386.2" y="116.5" font-size="6.8" fill="#333" stroke="#333" stroke-width="0.18" text-anchor="middle">M</text>
<text x="345.4" y="127.3" font-size="6.6" fill="#333" stroke="#333" stroke-width="0.18" text-anchor="end" textLength="28" lengthAdjust="spacingAndGlyphs">del(Xp11)</text>
<text x="354.7" y="127.0" font-size="6.2" fill="#333" stroke="#333" stroke-width="0.18" text-anchor="middle">-</text>
<text x="370.5" y="127.0" font-size="6.2" fill="#333" stroke="#333" stroke-width="0.18" text-anchor="middle">+</text>
<text x="386.2" y="127.0" font-size="6.2" fill="#333" stroke="#333" stroke-width="0.18" text-anchor="middle">-</text>
<text x="445.2" y="16.6" font-size="8.5" fill="#222" stroke="#222" stroke-width="0.18" textLength="43" lengthAdjust="spacingAndGlyphs">CoMMpass</text>
<line x1="433.5" y1="38.3" x2="433.5" y2="106" stroke="#222" stroke-width="1"/>
<line x1="433" y1="105.5" x2="498.5" y2="105.5" stroke="#222" stroke-width="1"/>
<line x1="430.3" y1="102.7" x2="433.5" y2="102.7" stroke="#222" stroke-width="0.8"/>
<line x1="430.3" y1="90.4" x2="433.5" y2="90.4" stroke="#222" stroke-width="0.8"/>
<line x1="430.3" y1="78.1" x2="433.5" y2="78.1" stroke="#222" stroke-width="0.8"/>
<line x1="430.3" y1="65.8" x2="433.5" y2="65.8" stroke="#222" stroke-width="0.8"/>
<line x1="430.3" y1="53.5" x2="433.5" y2="53.5" stroke="#222" stroke-width="0.8"/>
<line x1="430.3" y1="41.2" x2="433.5" y2="41.2" stroke="#222" stroke-width="0.8"/>
<text x="427" y="43.3" font-size="6.4" fill="#333" stroke="#333" stroke-width="0.08" text-anchor="end">1</text>
<text x="427.6" y="104.9" font-size="6.4" fill="#333" stroke="#333" stroke-width="0.08" text-anchor="end">0</text>
<line x1="435.4" y1="105.5" x2="435.4" y2="108" stroke="#222" stroke-width="0.8"/>
<text x="435.4" y="116.4" font-size="6.4" fill="#333" stroke="#333" stroke-width="0.08" text-anchor="middle">0</text>
<line x1="450.7" y1="105.5" x2="450.7" y2="108" stroke="#222" stroke-width="0.8"/>
<text x="450.7" y="116.4" font-size="6.4" fill="#333" stroke="#333" stroke-width="0.08" text-anchor="middle">2</text>
<line x1="466.0" y1="105.5" x2="466.0" y2="108" stroke="#222" stroke-width="0.8"/>
<text x="466.0" y="116.4" font-size="6.4" fill="#333" stroke="#333" stroke-width="0.08" text-anchor="middle">4</text>
<line x1="481.29999999999995" y1="105.5" x2="481.29999999999995" y2="108" stroke="#222" stroke-width="0.8"/>
<text x="481.29999999999995" y="116.4" font-size="6.4" fill="#333" stroke="#333" stroke-width="0.08" text-anchor="middle">6</text>
<line x1="496.59999999999997" y1="105.5" x2="496.59999999999997" y2="108" stroke="#222" stroke-width="0.8"/>
<text x="496.59999999999997" y="116.4" font-size="6.4" fill="#333" stroke="#333" stroke-width="0.08" text-anchor="middle">8</text>
<text x="466.8" y="128.8" font-size="8.2" fill="#222" stroke="#222" stroke-width="0.18" text-anchor="middle" textLength="19.6" lengthAdjust="spacingAndGlyphs">Years</text>
<text x="417.2" y="71" font-size="7" fill="#333" stroke="#333" stroke-width="0.18" text-anchor="middle" textLength="20.4" lengthAdjust="spacingAndGlyphs" transform="rotate(-90 417.2 71)">PFS (%)</text>
<path d="M435.2 41.2 H436.1 V42.4 H437.4 V43.7 H438.6 V44.9 H439.8 V46.1 H440.7 V46.5 H442.1 V48.0 H443.4 V49.2 H444.5 V50.6 H445.5 V51.8 H446.9 V53.6 H447.7 V55.1 H449.2 V57.1 H450.1 V58.0 H451.0 V58.7 H452.1 V59.9 H453.0 V60.6 H454.0 V61.5 H455.0 V62.0 H456.4 V63.3 H457.6 V64.1 H459.1 V65.8 H460.0 V66.4 H461.3 V68.0 H462.8 V69.4 H464.1 V70.7 H465.2 V71.6 H466.6 V72.9 H467.7 V73.8 H468.6 V74.3 H469.9 V75.6 H470.8 V76.3 H472.1 V77.3 H473.2 V77.9 H474.3 V78.5 H475.5 V78.9 H476.7 V79.2 H477.5 V79.8 H479.0 V80.2 H480.0 V80.3 H481.2 V81.1 H482.5 V81.1 H483.9 V81.1 H485.1 V81.6 H486.3 V81.6 H487.3 V81.6 H488.8 V81.6 H490.1 V81.9 H491.5 V81.9 H492.9 V81.9 H494.1 V81.9 H494.9 V82.0 H496.1 V82.0 H497.0 V82.0" fill="none" stroke="#c2304c" stroke-width="1.15" stroke-linejoin="miter"/>
<path d="M435.2 41.2 H436.7 V43.2 H437.5 V43.7 H438.9 V45.4 H440.2 V46.2 H441.4 V46.9 H442.6 V48.4 H443.7 V50.3 H445.0 V52.9 H446.5 V55.0 H447.6 V56.5 H448.4 V57.6 H449.5 V59.3 H450.6 V61.0 H451.8 V62.4 H452.7 V63.4 H453.8 V65.0 H454.9 V67.2 H456.2 V68.7 H457.6 V70.9 H458.9 V72.7 H460.3 V74.3 H461.3 V75.7 H462.8 V76.7 H464.1 V78.3 H465.2 V79.1 H466.4 V80.0 H467.5 V80.6 H468.6 V81.2 H470.0 V81.7 H471.2 V82.5 H472.5 V83.0 H473.5 V83.3 H474.7 V83.7 H476.2 V84.3 H477.6 V84.7 H479.1 V85.4 H480.2 V85.6 H481.5 V86.0 H482.5 V86.1 H483.7 V86.8 H484.9 V86.8 H486.3 V87.5 H487.7 V87.6 H489.0 V87.9 H490.3 V88.3 H491.3 V88.9 H492.1 V89.0 H493.5 V89.3 H494.5 V89.9 H495.6 V90.2 H496.4 V90.2 H497.0 V90.6" fill="none" stroke="#5ab06c" stroke-width="1.15" stroke-linejoin="miter"/>
<path d="M435.2 41.2 H436.2 V42.7 H437.2 V44.4 H438.5 V45.8 H439.3 V47.1 H440.3 V47.9 H441.8 V50.3 H443.1 V52.3 H444.4 V53.7 H445.6 V55.6 H446.8 V57.1 H448.1 V58.5 H449.4 V60.6 H450.4 V61.6 H451.8 V63.7 H453.1 V65.8 H454.4 V67.8 H455.5 V69.5 H456.6 V71.3 H458.0 V72.5 H458.9 V73.7 H460.4 V75.6 H461.6 V77.0 H462.8 V78.0 H463.8 V79.0 H465.0 V80.2 H466.3 V80.9 H467.7 V81.6 H469.0 V81.9 H470.4 V82.9 H471.8 V83.3 H473.1 V83.7 H474.5 V84.3 H475.5 V84.4 H476.9 V85.3 H477.8 V85.4 H478.8 V85.5 H479.9 V86.1 H481.3 V86.2 H482.5 V86.5 H483.8 V87.1 H485.2 V87.8 H486.4 V88.1 H487.4 V88.1 H488.6 V88.2 H489.5 V88.6 H490.8 V88.8 H491.6 V89.4 H492.6 V89.7 H494.0 V89.9 H495.2 V90.3 H496.4 V90.7 H497.0 V90.9" fill="none" stroke="#1f5c58" stroke-width="1.15" stroke-linejoin="miter"/>
<line x1="463.4" y1="41.8" x2="469.5" y2="41.8" stroke="#d06a7a" stroke-width="1.1"/>
<text x="471.9" y="44.1" font-size="6.6" fill="#333" stroke="#333" stroke-width="0.18">F</text>
<line x1="463.4" y1="50.3" x2="469.5" y2="50.3" stroke="#8cc496" stroke-width="1.1"/>
<text x="471.9" y="53.1" font-size="6.5" fill="#333" stroke="#333" stroke-width="0.18" textLength="41.3" lengthAdjust="spacingAndGlyphs">F del(KDM6A)</text>
<line x1="463.4" y1="58.8" x2="469.5" y2="58.8" stroke="#5a8a88" stroke-width="1.1"/>
<text x="471.9" y="61.2" font-size="6.6" fill="#333" stroke="#333" stroke-width="0.18">M</text>
<text x="435.2" y="93.6" font-size="6.6" fill="#333" stroke="#333" stroke-width="0.18" textLength="39.6" lengthAdjust="spacingAndGlyphs">M (P = .0012)</text>
<text x="435.2" y="101.6" font-size="6.5" fill="#333" stroke="#333" stroke-width="0.18" textLength="69.6" lengthAdjust="spacingAndGlyphs">F del(KDM6A) (P = .038)</text>
<text x="120.6" y="166.5" font-size="8.6" fill="#222" stroke="#222" stroke-width="0.18" textLength="112" lengthAdjust="spacingAndGlyphs">Non Lenalidomide Regimens</text>
<line x1="112.5" y1="172.5" x2="112.5" y2="256" stroke="#222" stroke-width="1"/>
<line x1="112.0" y1="255.5" x2="240" y2="255.5" stroke="#222" stroke-width="1"/>
<line x1="109.5" y1="255.6" x2="112.5" y2="255.6" stroke="#222" stroke-width="0.8"/>
<text x="107.3" y="257.6" font-size="6.8" fill="#3a3a3a" stroke="#3a3a3a" stroke-width="0.05" text-anchor="end">0</text>
<line x1="109.5" y1="239.29999999999998" x2="112.5" y2="239.29999999999998" stroke="#222" stroke-width="0.8"/>
<text x="107.3" y="241.29999999999998" font-size="6.8" fill="#3a3a3a" stroke="#3a3a3a" stroke-width="0.05" text-anchor="end">0.2</text>
<line x1="109.5" y1="223.0" x2="112.5" y2="223.0" stroke="#222" stroke-width="0.8"/>
<text x="107.3" y="225.0" font-size="6.8" fill="#3a3a3a" stroke="#3a3a3a" stroke-width="0.05" text-anchor="end">0.4</text>
<line x1="109.5" y1="206.7" x2="112.5" y2="206.7" stroke="#222" stroke-width="0.8"/>
<text x="107.3" y="208.7" font-size="6.8" fill="#3a3a3a" stroke="#3a3a3a" stroke-width="0.05" text-anchor="end">0.6</text>
<line x1="109.5" y1="190.39999999999998" x2="112.5" y2="190.39999999999998" stroke="#222" stroke-width="0.8"/>
<text x="107.3" y="192.39999999999998" font-size="6.8" fill="#3a3a3a" stroke="#3a3a3a" stroke-width="0.05" text-anchor="end">0.8</text>
<line x1="109.5" y1="174.1" x2="112.5" y2="174.1" stroke="#222" stroke-width="0.8"/>
<text x="107.3" y="176.1" font-size="6.8" fill="#3a3a3a" stroke="#3a3a3a" stroke-width="0.05" text-anchor="end">1</text>
<text x="92.3" y="213.0" font-size="6.7" fill="#333" stroke="#333" stroke-width="0.18" text-anchor="middle" textLength="23.5" lengthAdjust="spacingAndGlyphs" transform="rotate(-90 92.3 213.0)">Fraction</text>
<rect x="136.8" y="251.93" width="15.6" height="3.67" fill="#183f75"/>
<rect x="136.8" y="242.15" width="15.6" height="9.78" fill="#f59a13"/>
<rect x="136.8" y="196.92" width="15.6" height="45.23" fill="#0b6652"/>
<rect x="136.8" y="174.1" width="15.6" height="22.82" fill="#28a7dc"/>
<line x1="144.60000000000002" y1="255.6" x2="144.60000000000002" y2="258.6" stroke="#222" stroke-width="0.8"/>
<text x="124.9" y="268" font-size="6.6" fill="#333" stroke="#333" stroke-width="0.18" textLength="40" lengthAdjust="spacingAndGlyphs">NO del(Xp11)</text>
<rect x="200.2" y="250.71" width="15.8" height="4.89" fill="#183f75"/>
<rect x="200.2" y="242.56" width="15.8" height="8.15" fill="#f59a13"/>
<rect x="200.2" y="194.47" width="15.8" height="48.09" fill="#0b6652"/>
<rect x="200.2" y="183.88" width="15.8" height="10.59" fill="#28a7dc"/>
<rect x="200.2" y="174.1" width="15.8" height="9.78" fill="#e0197d"/>
<line x1="208.1" y1="255.6" x2="208.1" y2="258.6" stroke="#222" stroke-width="0.8"/>
<text x="194.3" y="268" font-size="6.6" fill="#333" stroke="#333" stroke-width="0.18" textLength="27.4" lengthAdjust="spacingAndGlyphs">del(Xp11)</text>
<line x1="152.4" y1="174.1" x2="200.2" y2="174.1" stroke="#333" stroke-width="0.8" stroke-dasharray="0.9 0.9"/>
<line x1="152.4" y1="174.3" x2="200.2" y2="183.8" stroke="#333" stroke-width="0.8" stroke-dasharray="0.9 0.9"/>
<line x1="152.4" y1="196.8" x2="200.2" y2="194.7" stroke="#333" stroke-width="0.8" stroke-dasharray="0.9 0.9"/>
<line x1="152.4" y1="242.2" x2="200.2" y2="242.6" stroke="#333" stroke-width="0.8" stroke-dasharray="0.9 0.9"/>
<line x1="152.4" y1="251.9" x2="200.2" y2="250.7" stroke="#333" stroke-width="0.8" stroke-dasharray="0.9 0.9"/>
<text x="166.3" y="218.6" font-size="6.6" fill="#333" stroke="#333" stroke-width="0.18"><tspan font-style="italic">P</tspan> &lt; .02</text>
<text x="333.2" y="166.5" font-size="8.6" fill="#222" stroke="#222" stroke-width="0.18" textLength="92" lengthAdjust="spacingAndGlyphs">Lenalidomide Regimens</text>
<line x1="313.5" y1="172.5" x2="313.5" y2="256" stroke="#222" stroke-width="1"/>
<line x1="313.0" y1="255.5" x2="442" y2="255.5" stroke="#222" stroke-width="1"/>
<line x1="310.5" y1="255.6" x2="313.5" y2="255.6" stroke="#222" stroke-width="0.8"/>
<text x="308.3" y="257.6" font-size="6.8" fill="#3a3a3a" stroke="#3a3a3a" stroke-width="0.05" text-anchor="end">0</text>
<line x1="310.5" y1="239.29999999999998" x2="313.5" y2="239.29999999999998" stroke="#222" stroke-width="0.8"/>
<text x="308.3" y="241.29999999999998" font-size="6.8" fill="#3a3a3a" stroke="#3a3a3a" stroke-width="0.05" text-anchor="end">0.2</text>
<line x1="310.5" y1="223.0" x2="313.5" y2="223.0" stroke="#222" stroke-width="0.8"/>
<text x="308.3" y="225.0" font-size="6.8" fill="#3a3a3a" stroke="#3a3a3a" stroke-width="0.05" text-anchor="end">0.4</text>
<line x1="310.5" y1="206.7" x2="313.5" y2="206.7" stroke="#222" stroke-width="0.8"/>
<text x="308.3" y="208.7" font-size="6.8" fill="#3a3a3a" stroke="#3a3a3a" stroke-width="0.05" text-anchor="end">0.6</text>
<line x1="310.5" y1="190.39999999999998" x2="313.5" y2="190.39999999999998" stroke="#222" stroke-width="0.8"/>
<text x="308.3" y="192.39999999999998" font-size="6.8" fill="#3a3a3a" stroke="#3a3a3a" stroke-width="0.05" text-anchor="end">0.8</text>
<line x1="310.5" y1="174.1" x2="313.5" y2="174.1" stroke="#222" stroke-width="0.8"/>
<text x="308.3" y="176.1" font-size="6.8" fill="#3a3a3a" stroke="#3a3a3a" stroke-width="0.05" text-anchor="end">1</text>
<text x="293.3" y="213.0" font-size="6.7" fill="#333" stroke="#333" stroke-width="0.18" text-anchor="middle" textLength="23.5" lengthAdjust="spacingAndGlyphs" transform="rotate(-90 293.3 213.0)">Fraction</text>
<rect x="339.0" y="249.49" width="15.5" height="6.11" fill="#183f75"/>
<rect x="339.0" y="223.41" width="15.5" height="26.08" fill="#f59a13"/>
<rect x="339.0" y="183.88" width="15.5" height="39.53" fill="#0b6652"/>
<rect x="339.0" y="176.95" width="15.5" height="6.93" fill="#28a7dc"/>
<rect x="339.0" y="174.1" width="15.5" height="2.85" fill="#e0197d"/>
<line x1="346.75" y1="255.6" x2="346.75" y2="258.6" stroke="#222" stroke-width="0.8"/>
<text x="326.8" y="268" font-size="6.6" fill="#333" stroke="#333" stroke-width="0.18" textLength="40" lengthAdjust="spacingAndGlyphs">NO del(Xp11)</text>
<rect x="402.6" y="249.89" width="15.6" height="5.71" fill="#183f75"/>
<rect x="402.6" y="229.93" width="15.6" height="19.97" fill="#f59a13"/>
<rect x="402.6" y="192.44" width="15.6" height="37.49" fill="#0b6652"/>
<rect x="402.6" y="179.4" width="15.6" height="13.04" fill="#28a7dc"/>
<rect x="402.6" y="174.1" width="15.6" height="5.3" fill="#e0197d"/>
<line x1="410.4" y1="255.6" x2="410.4" y2="258.6" stroke="#222" stroke-width="0.8"/>
<text x="397.2" y="268" font-size="6.6" fill="#333" stroke="#333" stroke-width="0.18" textLength="27.4" lengthAdjust="spacingAndGlyphs">del(Xp11)</text>
<line x1="354.5" y1="174.2" x2="402.6" y2="174.3" stroke="#333" stroke-width="0.8" stroke-dasharray="0.9 0.9"/>
<line x1="354.5" y1="177.0" x2="402.6" y2="179.6" stroke="#333" stroke-width="0.8" stroke-dasharray="0.9 0.9"/>
<line x1="354.5" y1="183.6" x2="402.6" y2="192.6" stroke="#333" stroke-width="0.8" stroke-dasharray="0.9 0.9"/>
<line x1="354.5" y1="223.5" x2="402.6" y2="230.2" stroke="#333" stroke-width="0.8" stroke-dasharray="0.9 0.9"/>
<line x1="354.5" y1="249.6" x2="402.6" y2="249.9" stroke="#333" stroke-width="0.8" stroke-dasharray="0.9 0.9"/>
<text x="368.2" y="218.6" font-size="6.6" fill="#333" stroke="#333" stroke-width="0.18"><tspan font-style="italic">P</tspan> &lt; .01</text>
<rect x="242.8" y="195.5" width="4.6" height="4.0" fill="#e0197d"/>
<text x="250.6" y="199.9" font-size="6.6" fill="#333" stroke="#333" stroke-width="0.18" textLength="8.0" lengthAdjust="spacingAndGlyphs">SD</text>
<rect x="242.8" y="203.55" width="4.6" height="4.0" fill="#28a7dc"/>
<text x="250.6" y="207.95000000000002" font-size="6.6" fill="#333" stroke="#333" stroke-width="0.18" textLength="7.8" lengthAdjust="spacingAndGlyphs">PR</text>
<rect x="242.8" y="211.6" width="4.6" height="4.0" fill="#0b6652"/>
<text x="250.6" y="216.0" font-size="6.6" fill="#333" stroke="#333" stroke-width="0.18" textLength="16.8" lengthAdjust="spacingAndGlyphs">VGPR</text>
<rect x="242.8" y="219.65" width="4.6" height="4.0" fill="#f59a13"/>
<text x="250.6" y="224.05" font-size="6.6" fill="#333" stroke="#333" stroke-width="0.18" textLength="8.4" lengthAdjust="spacingAndGlyphs">CR</text>
<rect x="242.8" y="227.7" width="4.6" height="4.0" fill="#183f75"/>
<text x="250.6" y="232.1" font-size="6.6" fill="#333" stroke="#333" stroke-width="0.18" textLength="11.6" lengthAdjust="spacingAndGlyphs">sCR</text></svg>
</body></html>
